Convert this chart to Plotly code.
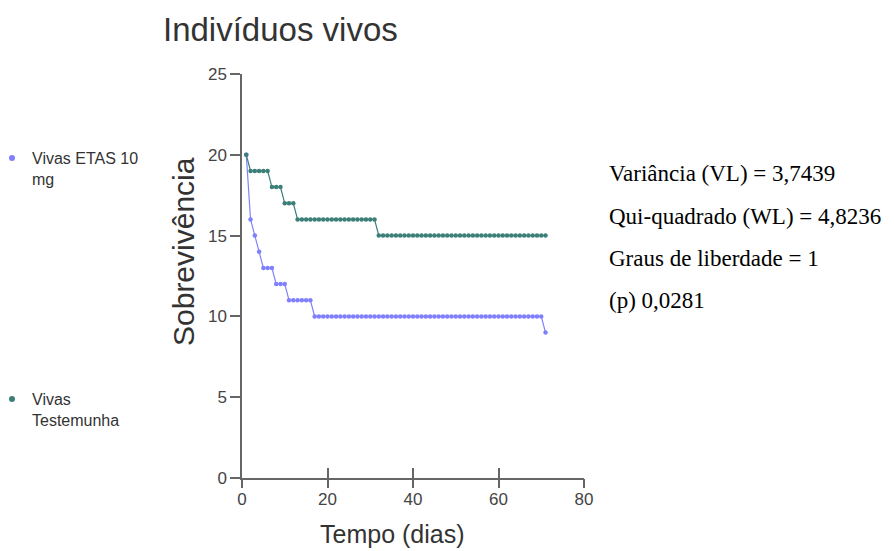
import plotly.graph_objects as go

# ---- data ----
dias = [1, 2, 3, 4, 5, 6, 7, 8, 9, 10, 11, 12, 13, 14, 15, 16, 17, 18, 19, 20,
        21, 22, 23, 24, 25, 26, 27, 28, 29, 30, 31, 32, 33, 34, 35, 36, 37, 38, 39, 40,
        41, 42, 43, 44, 45, 46, 47, 48, 49, 50, 51, 52, 53, 54, 55, 56, 57, 58, 59, 60,
        61, 62, 63, 64, 65, 66, 67, 68, 69, 70, 71]

vivas_etas = [20, 16, 15, 14, 13, 13, 13, 12, 12, 12, 11, 11, 11, 11, 11, 11, 10, 10, 10, 10,
              10, 10, 10, 10, 10, 10, 10, 10, 10, 10, 10, 10, 10, 10, 10, 10, 10, 10, 10, 10,
              10, 10, 10, 10, 10, 10, 10, 10, 10, 10, 10, 10, 10, 10, 10, 10, 10, 10, 10, 10,
              10, 10, 10, 10, 10, 10, 10, 10, 10, 10, 9]

vivas_testemunha = [20, 19, 19, 19, 19, 19, 18, 18, 18, 17, 17, 17, 16, 16, 16, 16, 16, 16, 16, 16,
                    16, 16, 16, 16, 16, 16, 16, 16, 16, 16, 16, 15, 15, 15, 15, 15, 15, 15, 15, 15,
                    15, 15, 15, 15, 15, 15, 15, 15, 15, 15, 15, 15, 15, 15, 15, 15, 15, 15, 15, 15,
                    15, 15, 15, 15, 15, 15, 15, 15, 15, 15, 15]

serie_nomes = ["Vivas ETAS 10<br>mg", "Vivas<br>Testemunha"]
estatisticas = ["Variância (VL) = 3,7439",
                "Qui-quadrado (WL) = 4,8236",
                "Graus de liberdade = 1",
                "(p) 0,0281"]
titulo = "Indivíduos vivos"
titulo_x = "Tempo (dias)"
titulo_y = "Sobrevivência"
x_ticks = [0, 20, 40, 60, 80]
y_ticks = [0, 5, 10, 15, 20, 25]

cor_etas = "#8080ff"
cor_test = "#3b7f78"

fig = go.Figure()
fig.add_trace(go.Scatter(x=dias, y=vivas_etas, mode="lines+markers",
                         line=dict(color=cor_etas, width=1.2),
                         marker=dict(color=cor_etas, size=4.5),
                         showlegend=False, hoverinfo="x+y"))
fig.add_trace(go.Scatter(x=dias, y=vivas_testemunha, mode="lines+markers",
                         line=dict(color=cor_test, width=1.2),
                         marker=dict(color=cor_test, size=4.5),
                         showlegend=False, hoverinfo="x+y"))
# legend entries (dot only)
fig.add_trace(go.Scatter(x=[None], y=[None], mode="markers", name=serie_nomes[0],
                         marker=dict(color=cor_etas, size=6), legend="legend", xaxis="x2"))
fig.add_trace(go.Scatter(x=[None], y=[None], mode="markers", name=serie_nomes[1],
                         marker=dict(color=cor_test, size=6), legend="legend2", xaxis="x2"))

# page body has an 8px margin: figure drawn at (8, 8)
OFF = 8
W, H = 894 - OFF, 551 - OFF
L, T = 242 - OFF, 74 - OFF
R = W - (584 - OFF)
B = H - (478 - OFF)
pw = W - L - R
ph = H - T - B


def px_x(sx):
    return (sx - OFF - L) / pw


def px_y(sy):
    return (H - B - (sy - OFF)) / ph


for i, txt in enumerate(estatisticas):
    ypx = [173, 216, 259, 300][i]
    fig.add_annotation(text=txt, xref="paper", yref="paper",
                       x=px_x(607), y=px_y(ypx),
                       xanchor="left", yanchor="middle", showarrow=False,
                       font=dict(family="Liberation Serif", size=23, color="#000000"))

# axis titles (placed as in the reference, not centred on the plot)
fig.add_annotation(text=titulo_x, xref="paper", yref="paper",
                   x=px_x(392), y=px_y(534), xanchor="center", yanchor="middle",
                   showarrow=False,
                   font=dict(family="Arial", size=25, color="#333333"))
fig.add_annotation(text=titulo_y, xref="paper", yref="paper", textangle=-90,
                   x=px_x(184), y=px_y(252), xanchor="center", yanchor="middle",
                   showarrow=False,
                   font=dict(family="Arial", size=30, color="#333333"))

axis_font = dict(family="Arial", size=17, color="#444444")
legend_font = dict(family="Arial", size=16, color="#333333")
fig.update_layout(
    width=W, height=H,
    margin=dict(l=L, r=R, t=T, b=B, autoexpand=False),
    paper_bgcolor="white", plot_bgcolor="white",
    title=dict(text=titulo, xref="container", yref="container",
               x=(163 - OFF) / W, xanchor="left", y=1 - (29 - OFF) / H, yanchor="middle",
               font=dict(family="Arial", size=33, color="#333333")),
    xaxis=dict(range=[0, 80], tickvals=x_ticks, showgrid=False, zeroline=False,
               automargin=False,
               showline=True, linecolor="#666666", linewidth=1.5,
               ticks="inside", ticklen=10, tickcolor="#666666", tickwidth=1.5,
               tickfont=axis_font, ticklabelstandoff=5),
    xaxis2=dict(range=[0, 80], overlaying="x", tickvals=x_ticks, showgrid=False,
                automargin=False,
                zeroline=False, showline=False, showticklabels=False,
                ticks="outside", ticklen=9, tickcolor="#666666", tickwidth=1.5),
    yaxis=dict(range=[0, 25], tickvals=y_ticks, showgrid=False, zeroline=False,
               automargin=False,
               showline=True, linecolor="#666666", linewidth=1.5,
               ticks="outside", ticklen=10, tickcolor="#666666", tickwidth=1.5,
               tickfont=axis_font),
    legend=dict(x=px_x(-8), y=px_y(141), xanchor="left", yanchor="top", valign="top",
                font=legend_font, bgcolor="rgba(0,0,0,0)", itemwidth=30),
    legend2=dict(x=px_x(-8), y=px_y(382), xanchor="left", yanchor="top", valign="top",
                 font=legend_font, bgcolor="rgba(0,0,0,0)", itemwidth=30),
    showlegend=True,
)

fig.write_html("out.html")
